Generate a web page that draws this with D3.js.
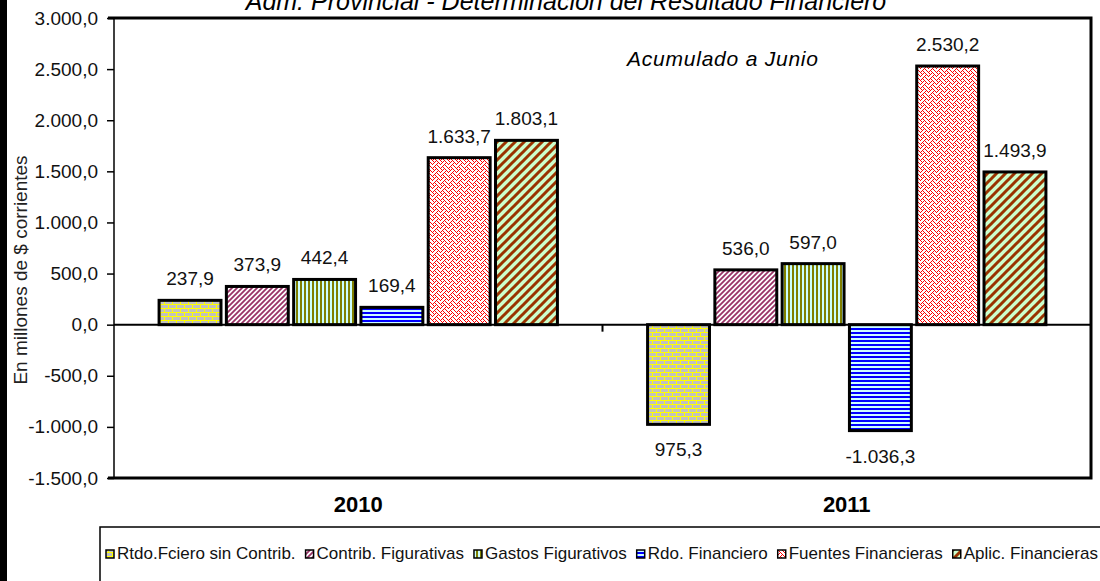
<!DOCTYPE html>
<html>
<head>
<meta charset="utf-8">
<script src="https://cdn.jsdelivr.net/npm/d3@7"></script>
<style>
body { margin: 0; background: #fff; }
svg { display: block; }
</style>
</head>
<body>
<div id="container"><svg></svg></div>
<script>
let width = 1100
let height = 581
let fontFamily = '"Liberation Sans", Arial, sans-serif'

let years = ['2010', '2011']
let series = ['Rtdo.Fciero sin Contrib.', 'Contrib. Figurativas', 'Gastos Figurativos',
    'Rdo. Financiero', 'Fuentes Financieras', 'Aplic. Financieras']
let values_2010 = [237.9, 373.9, 442.4, 169.4, 1633.7, 1803.1]
let values_2011 = [-975.3, 536.0, 597.0, -1036.3, 2530.2, 1493.9]
// labels as printed on the chart
let labels_2010 = ['237,9', '373,9', '442,4', '169,4', '1.633,7', '1.803,1']
let labels_2011 = ['975,3', '536,0', '597,0', '-1.036,3', '2.530,2', '1.493,9']
let y_ticks = [-1500, -1000, -500, 0, 500, 1000, 1500, 2000, 2500, 3000]

let title = 'Adm. Provincial - Determinación del Resultado Financiero'
let subtitle = 'Acumulado a Junio'
let y_title = 'En millones de $ corrientes'

let pattern_ids = ['p_brick', 'p_contrib', 'p_gastos', 'p_rdo', 'p_fuentes', 'p_aplic']

let es = d3.formatLocale({decimal: ',', thousands: '.', grouping: [3], currency: ['$', ''], minus: '-'})
let fmt = es.format(',.1f')

let data = []
years.forEach((yr, i) => {
    let vals = i == 0 ? values_2010 : values_2011
    let labs = i == 0 ? labels_2010 : labels_2011
    series.forEach((s, j) => data.push({year: yr, serie: s, value: vals[j], label: labs[j], k: j}))
})

let svg = d3.select('#container').select('svg')
    .attr('width', width)
    .attr('height', height)
    .style('font-family', fontFamily)

// ---- fill patterns
let defs = svg.append('defs')

function make_pattern(id, w, h, bg) {
    let p = defs.append('pattern')
        .attr('id', id)
        .attr('patternUnits', 'userSpaceOnUse')
        .attr('width', w)
        .attr('height', h)
    p.append('rect').attr('width', w).attr('height', h).attr('fill', bg)
    return p
}
function px(p, x, y, w, h, c) {
    p.append('rect').attr('x', x).attr('y', y).attr('width', w).attr('height', h)
        .attr('fill', c).attr('shape-rendering', 'crispEdges')
}
function diag(p, w, c, sw) {
    p.append('path')
        .attr('d', `M0,${w} L${w},0 M${-w/2},${w/2} L${w/2},${-w/2} M${w/2},${w*1.5} L${w*1.5},${w/2}`)
        .attr('stroke', c)
        .attr('stroke-width', sw)
}

let brick = make_pattern('p_brick', 8, 8, '#c0c0c0')
px(brick, 0, 0, 8, 1, '#ffff00')
px(brick, 0, 4, 8, 1, '#ffff00')
px(brick, 0, 1, 1, 3, '#ffff00')
px(brick, 4, 5, 1, 3, '#ffff00')

let contrib = make_pattern('p_contrib', 5, 5, '#ffffff')
diag(contrib, 5, '#993366', 1.8)

let gastos = make_pattern('p_gastos', 4, 4, '#ccffff')
px(gastos, 0, 0, 2, 4, '#808000')

let rdo = make_pattern('p_rdo', 4, 4, '#ccffff')
px(rdo, 0, 0, 4, 2, '#0000ff')

let fuentes = make_pattern('p_fuentes', 8, 8, '#ffffff')
let bits = [0x88, 0x54, 0x22, 0x45, 0x88, 0x14, 0x22, 0x51]
bits.forEach((b, r) => {
    for (let c = 0; c < 8; c++) {
        if (b & (0x80 >> c)) px(fuentes, c, r, 1, 1, '#ff0000')
    }
})

let aplic = make_pattern('p_aplic', 9, 9, '#ccffcc')
diag(aplic, 9, '#993300', 3)

// ---- scales
let padding = {left: 114, right: 1091, top: 18, bottom: 478}

let x0 = d3.scaleBand()
    .domain(years)
    .range([padding.left, padding.right])
    .padding(0)
let x1 = d3.scaleBand()
    .domain(series)
    .range([0, x0.bandwidth()])
    .paddingInner(0.08)
    .paddingOuter(0.67)
let y = d3.scaleLinear()
    .domain([-1500, 3000])
    .range([padding.bottom, padding.top])

// left black strip
svg.append('rect')
    .attr('x', 0).attr('y', 0)
    .attr('width', 7).attr('height', height)
    .attr('fill', '#000')

// title (cut at top like the original)
svg.append('text')
    .attr('x', 566)
    .attr('y', 10)
    .attr('text-anchor', 'middle')
    .attr('font-size', '25px')
    .attr('font-style', 'italic')
    .text(title)

svg.append('text')
    .attr('x', 627)
    .attr('y', 66)
    .attr('font-size', '21px')
    .attr('font-style', 'italic')
    .attr('textLength', 191)
    .attr('lengthAdjust', 'spacing')
    .text(subtitle)

// bars
svg.append('g')
    .selectAll('rect')
    .data(data)
    .enter().append('rect')
    .attr('x', d => x0(d.year) + x1(d.serie))
    .attr('y', d => y(Math.max(0, d.value)))
    .attr('width', x1.bandwidth())
    .attr('height', d => Math.abs(y(d.value) - y(0)))
    .attr('fill', d => `url(#${pattern_ids[d.k]})`)
    .attr('stroke', '#000')
    .attr('stroke-width', 3)

// value labels
svg.append('g')
    .selectAll('text')
    .data(data)
    .enter().append('text')
    .attr('x', d => x0(d.year) + x1(d.serie) + x1.bandwidth() / 2)
    .attr('y', d => d.value >= 0 ? y(d.value) - 15 : y(d.value) + 32)
    .attr('text-anchor', 'middle')
    .attr('font-size', '19px')
    .attr('fill', '#111')
    .text(d => d.label)

// zero line + category ticks
svg.append('line')
    .attr('x1', padding.left).attr('x2', padding.right)
    .attr('y1', y(0)).attr('y2', y(0))
    .attr('stroke', '#000').attr('stroke-width', 2)
svg.append('line')
    .attr('x1', x0('2011')).attr('x2', x0('2011'))
    .attr('y1', y(0)).attr('y2', y(0) + 7)
    .attr('stroke', '#000').attr('stroke-width', 2)

// y axis
let axis_y = d3.axisLeft()
    .scale(y)
    .tickValues(y_ticks)
    .tickSize(7)
    .tickPadding(9)
    .tickFormat(d => fmt(d))
let gy = svg.append('g')
    .attr('transform', `translate(${padding.left}, 0)`)
    .call(axis_y)
gy.select('.domain').remove()
gy.selectAll('.tick line').attr('stroke', '#000').attr('stroke-width', 1.5)
gy.selectAll('.tick text')
    .attr('font-family', fontFamily)
    .attr('font-size', '19px')
    .attr('fill', '#111')

svg.append('line')
    .attr('x1', padding.left).attr('x2', padding.left)
    .attr('y1', padding.top).attr('y2', padding.bottom)
    .attr('stroke', '#000').attr('stroke-width', 1.5)

// plot frame: top, right, bottom heavy
svg.append('path')
    .attr('d', `M${padding.left - 6},${padding.top} L${padding.right},${padding.top} L${padding.right},${padding.bottom} L${padding.left - 6},${padding.bottom}`)
    .attr('fill', 'none')
    .attr('stroke', '#000')
    .attr('stroke-width', 3)

svg.append('text')
    .attr('transform', `translate(27, 270) rotate(-90)`)
    .attr('text-anchor', 'middle')
    .attr('font-size', '19px')
    .attr('fill', '#222')
    .text(y_title)

// x categories
svg.append('g')
    .selectAll('text')
    .data(years)
    .enter().append('text')
    .attr('x', d => x0(d) + x0.bandwidth() / 2)
    .attr('y', 512)
    .attr('text-anchor', 'middle')
    .attr('font-size', '22px')
    .attr('font-weight', 'bold')
    .text(d => d)

// legend
let lg = svg.append('g')
lg.append('rect')
    .attr('x', 100).attr('y', 527)
    .attr('width', 1020).attr('height', 80)
    .attr('fill', '#fff')
    .attr('stroke', '#000')
    .attr('stroke-width', 1.5)

let cx = 106
series.forEach((s, i) => {
    lg.append('rect')
        .attr('x', cx).attr('y', 550)
        .attr('width', 8).attr('height', 8)
        .attr('fill', `url(#${pattern_ids[i]})`)
        .attr('stroke', '#000')
        .attr('stroke-width', 1.5)
    let t = lg.append('text')
        .attr('x', cx + 11)
        .attr('y', 559)
        .attr('font-size', '17px')
        .attr('fill', '#111')
        .text(s)
    cx += 11 + t.node().getComputedTextLength() + 10
})
</script>
</body>
</html>
